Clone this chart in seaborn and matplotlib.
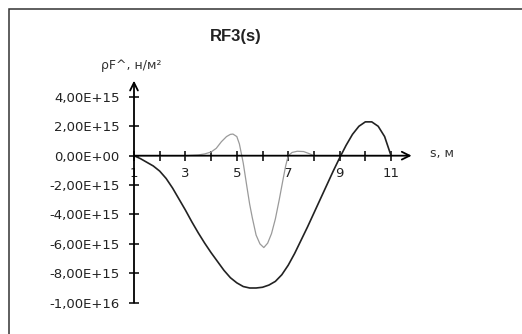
import matplotlib
matplotlib.use("Agg")
from matplotlib import pyplot as plt
from matplotlib import patches
from matplotlib.ticker import FuncFormatter
import seaborn as sb
import pandas as pd

# RF3(s) -- values, in units of 1e15 N/m^2
s_dark = [1, 1.25, 1.5, 1.75, 2, 2.25, 2.5, 2.75, 3, 3.25, 3.5, 3.75, 4, 4.25, 4.5, 4.75,
          5, 5.25, 5.5, 5.75, 6, 6.25, 6.5, 6.75, 7, 7.25, 7.5, 7.75, 8, 8.25, 8.5, 8.75,
          9, 9.25, 9.5, 9.75, 10, 10.25, 10.5, 10.75, 11]
rf_dark = [0, -0.2, -0.45, -0.7, -1.05, -1.55, -2.2, -2.95, -3.7, -4.5, -5.25, -5.95,
           -6.6, -7.2, -7.8, -8.3, -8.65, -8.9, -9.0, -9.0, -8.95, -8.8, -8.55, -8.1,
           -7.45, -6.65, -5.75, -4.85, -3.9, -2.95, -2.0, -1.05, -0.15, 0.7, 1.45, 2.0,
           2.3, 2.3, 2.0, 1.3, 0]

s_gray = [1, 2, 3, 3.5, 3.75, 4, 4.2, 4.4, 4.6, 4.75, 4.85, 5, 5.1, 5.25, 5.4, 5.5, 5.6,
          5.75, 5.9, 6.05, 6.2, 6.35, 6.5, 6.65, 6.8, 6.9, 7, 7.15, 7.35, 7.6, 7.8, 8,
          9, 10, 11]
rf_gray = [0, 0, 0, 0.05, 0.12, 0.25, 0.5, 0.95, 1.3, 1.45, 1.47, 1.3, 0.8, -0.5, -2.2,
           -3.3, -4.2, -5.4, -6.0, -6.25, -5.95, -5.3, -4.3, -3.0, -1.6, -0.7, 0, 0.22,
           0.3, 0.28, 0.15, 0, 0, 0, 0]

x_ticks = list(range(1, 12))
y_ticks = [4e15, 2e15, 0, -2e15, -4e15, -6e15, -8e15, -1e16]

df_dark = pd.DataFrame({"s": s_dark, "rf": [v * 1e15 for v in rf_dark]})
df_gray = pd.DataFrame({"s": s_gray, "rf": [v * 1e15 for v in rf_gray]})

sb.set_style("white")
plt.rcParams["font.family"] = ["DejaVu Sans"]

fig = plt.figure(figsize=(5.22, 3.34), dpi=100)
ax = fig.add_axes([134 / 522, 1 - 302.7 / 334, 277.6 / 522, 222 / 334])

sb.lineplot(data=df_gray, x="s", y="rf", ax=ax, color="#9a9a9a", linewidth=0.9)
sb.lineplot(data=df_dark, x="s", y="rf", ax=ax, color="#222222", linewidth=1.2)

ax.set_xlim(1, 11.8)
ax.set_ylim(-1e16, 5.1e15)
for sp in ["top", "right", "left", "bottom"]:
    ax.spines[sp].set_visible(False)

# axes with arrows
ax.annotate("", xy=(0, 1), xytext=(0, 0), xycoords="axes fraction",
            arrowprops=dict(arrowstyle="->", lw=1.3, color="black", shrinkA=0, shrinkB=0,
                            mutation_scale=14))
ax.annotate("", xy=(1, 0), xytext=(0, 0), xycoords=ax.get_yaxis_transform(),
            arrowprops=dict(arrowstyle="->", lw=1.3, color="black", shrinkA=0, shrinkB=0,
                            mutation_scale=14))

ax.set_xticks(x_ticks)
ax.set_xticklabels([str(t) if t % 2 == 1 else "" for t in x_ticks])
ax.set_yticks(y_ticks)
ax.yaxis.set_major_formatter(FuncFormatter(lambda v, p: f"{v:.2E}".replace(".", ",")))
ax.spines["bottom"].set_position(("data", 0))
ax.xaxis.set_ticks_position("bottom")
ax.yaxis.set_ticks_position("left")
ax.tick_params(axis="both", direction="inout", length=7, width=1.1, color="black",
               labelsize=9.5, labelcolor="#222222", bottom=True, left=True)
ax.tick_params(axis="y", pad=7)
ax.tick_params(axis="x", pad=5)
ax.set_xlabel("")
ax.set_ylabel("")
ax.grid(False)

fig.text(236 / 522, 1 - 37 / 334, "RF3(s)", ha="center", va="center", fontsize=12,
         fontweight="bold", family=["Liberation Sans", "DejaVu Sans"], color="#222222")
fig.text(131 / 522, 1 - 65 / 334, "ρF^, н/м²", ha="center", va="center", fontsize=9,
         color="#333333")
fig.text(430 / 522, 1 - 154 / 334, "s, м", ha="left", va="center", fontsize=9,
         color="#333333")

fig.patches.append(patches.Rectangle((9 / 522, -0.1), 1.2, 1 - 9 / 334 + 0.1,
                                     transform=fig.transFigure, fill=False,
                                     edgecolor="#333333", linewidth=1.1))

plt.savefig("out.png", dpi=100)
